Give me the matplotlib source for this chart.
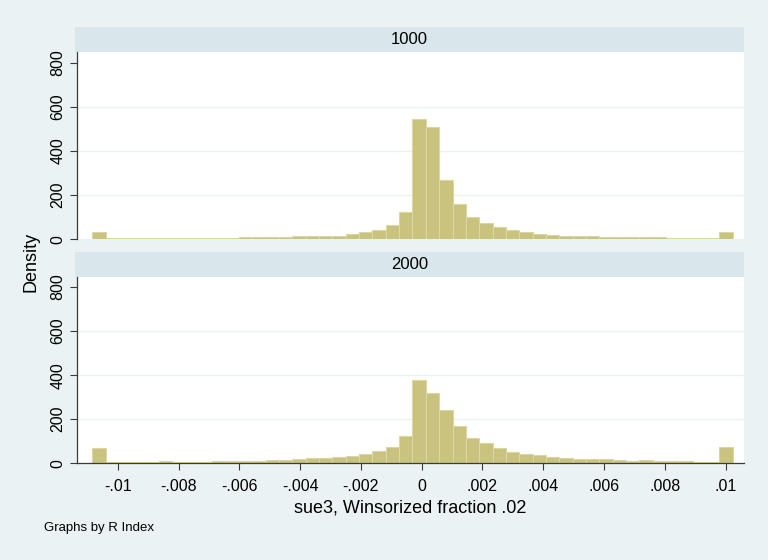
import numpy as np
import matplotlib
matplotlib.use("Agg")
import matplotlib.pyplot as plt

plt.rcParams['font.family'] = ['Liberation Sans', 'DejaVu Sans']

# histogram of sue3 (winsorized at .02), one panel per R Index group
panels = ["1000", "2000"]
bin_lo, bin_hi, n_bins = -0.010836, 0.01023, 48

dens_1000 = [32, 4, 4, 4, 4, 4, 4, 4, 4, 4, 4, 9, 9, 9, 9, 14,
             14, 17, 17, 25, 33, 41, 64, 123, 545, 507, 268, 161, 102, 72, 56, 41,
             33, 26, 21, 17, 17, 14, 9, 9, 9, 9, 9, 5, 5, 5, 5, 32]
dens_2000 = [68, 6, 5, 5, 5, 11, 6, 6, 6, 9, 9, 9, 9, 14, 14, 18,
             23, 23, 27, 33, 42, 58, 76, 124, 379, 320, 241, 171, 117, 92, 68, 53,
             41, 36, 30, 26, 21, 18, 18, 14, 11, 14, 11, 11, 11, 6, 6, 73]

xticks = [-0.01, -0.008, -0.006, -0.004, -0.002, 0, 0.002, 0.004, 0.006, 0.008, 0.01]
xtick_labels = ["-.01", "-.008", "-.006", "-.004", "-.002", "0",
                ".002", ".004", ".006", ".008", ".01"]
yticks = [0, 200, 400, 600, 800]

bg = "#EAF2F3"
strip_col = "#D9E6EB"
bar_fill = "#CAC27F"
bar_edge = "#DCD6A2"
axis_col = "#3A3A3A"

W, H = 768, 560
fig = plt.figure(figsize=(W / 100, H / 100), dpi=100, facecolor=bg)

def box(x0, y0, x1, y1):
    # pixel box (top-left origin) -> figure fraction rect
    return [x0 / W, 1 - y1 / H, (x1 - x0) / W, (y1 - y0) / H]

edges = np.linspace(bin_lo, bin_hi, n_bins + 1)
layout = [(27.3, 52.3, 239.3), (251.7, 276.7, 463.3)]
ax_left, ax_right = 76.7, 743.5

for i, (name, dens) in enumerate(zip(panels, [dens_1000, dens_2000])):
    s_top, p_top, p_bot = layout[i]

    # strip with panel title
    sax = fig.add_axes(box(ax_left - 1.4, s_top, ax_right, p_top))
    sax.set_facecolor(strip_col)
    sax.set_xticks([])
    sax.set_yticks([])
    for sp in sax.spines.values():
        sp.set_visible(False)
    sax.text(0.5, 0.5, name, ha="center", va="center", fontsize=12, transform=sax.transAxes)

    ax = fig.add_axes(box(ax_left, p_top, ax_right, p_bot))
    ax.set_facecolor("white")
    ax.bar(edges[:-1], dens, width=np.diff(edges), align="edge",
           color=bar_fill, edgecolor=bar_edge, linewidth=0.8, zorder=2)
    ax.set_xlim(-0.011349, 0.010586)
    ax.set_ylim(0, 847)
    for g in [200, 400, 600]:
        ax.axhline(g, color=bg, lw=1.0, zorder=1)

    ax.set_yticks(yticks)
    ax.set_yticklabels([str(v) for v in yticks], fontsize=11.5)
    for lab in ax.get_yticklabels():
        lab.set_rotation(90)
        lab.set_va("center")
    ax.tick_params(axis="y", length=5, width=0.8, color=axis_col, pad=3)

    for sp in ["top", "right"]:
        ax.spines[sp].set_visible(False)
    ax.spines["left"].set_color(axis_col)
    ax.spines["left"].set_linewidth(0.9)

    if i == 0:
        ax.spines["bottom"].set_visible(False)
        ax.set_xticks([])
    else:
        ax.spines["bottom"].set_color(axis_col)
        ax.spines["bottom"].set_linewidth(0.9)
        ax.set_xticks(xticks)
        ax.set_xticklabels(xtick_labels, fontsize=11.5)
        ax.tick_params(axis="x", length=5, width=0.8, color=axis_col, pad=6)

fig.text(31 / W, 1 - 262 / H, "Density", rotation=90, ha="center", va="center", fontsize=13)
fig.text(410 / W, 1 - 508 / H, "sue3, Winsorized fraction .02", ha="center", va="center", fontsize=13)
fig.text(44 / W, 1 - 528 / H, "Graphs by R Index", ha="left", va="center", fontsize=9.5)

fig.savefig("out.png", dpi=100, facecolor=bg)
